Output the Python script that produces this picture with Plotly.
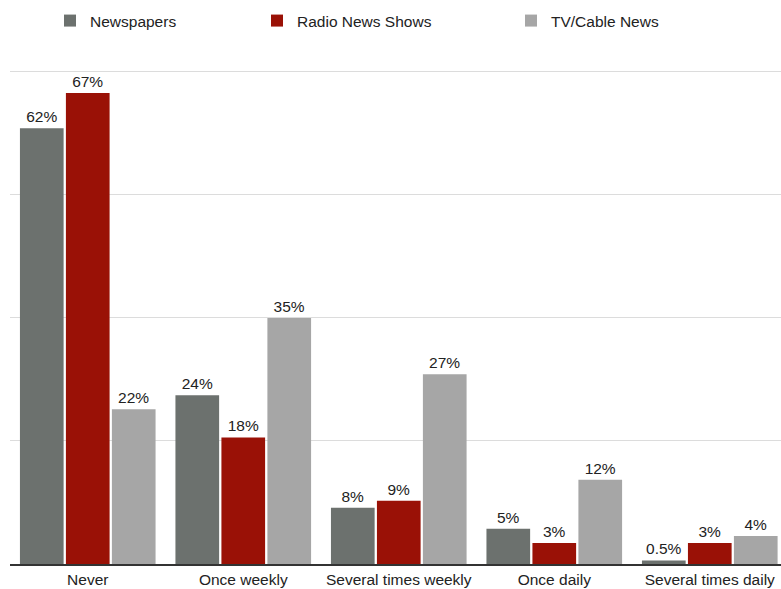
import plotly.graph_objects as go

categories = ["Never", "Once weekly", "Several times weekly", "Once daily", "Several times daily"]
newspapers = [62, 24, 8, 5, 0.5]
radio = [67, 18, 9, 3, 3]
tv = [22, 35, 27, 12, 4]
series_names = ["Newspapers", "Radio News Shows", "TV/Cable News"]
colors = ["#6c716e", "#9a1106", "#a6a6a6"]
grid_ticks = [0, 17.5, 35, 52.5, 70]

FONT = "Liberation Sans, Arial, Helvetica, sans-serif"
FS = 15.5
W, H = 781, 589
legend_x_px = [50, 257, 511]
legend_ids = ["legend", "legend2", "legend3"]

fig = go.Figure()
for name, vals, col, lid in zip(series_names, [newspapers, radio, tv], colors, legend_ids):
    fig.add_trace(go.Bar(
        x=categories, y=vals, name=name,
        marker=dict(color=col, line=dict(width=0)),
        text=[f"{v:g}%" for v in vals],
        textposition="outside",
        textfont=dict(size=FS, color="#222222", family=FONT),
        cliponaxis=False,
        legend=lid,
    ))

legend_common = dict(orientation="h", xref="container", yref="container",
                     xanchor="left", yanchor="middle", y=1 - 21 / H,
                     font=dict(size=FS, color="#222222", family=FONT),
                     bgcolor="rgba(0,0,0,0)", borderwidth=0)

fig.update_layout(
    width=W, height=H,
    margin=dict(l=10, r=0, t=70, b=25, pad=0),
    paper_bgcolor="white", plot_bgcolor="white",
    barmode="group", bargap=0.113, bargroupgap=0.05,
    font=dict(family=FONT, size=FS, color="#222222"),
    showlegend=True,
    legend=dict(x=legend_x_px[0] / W, **legend_common),
    legend2=dict(x=legend_x_px[1] / W, **legend_common),
    legend3=dict(x=legend_x_px[2] / W, **legend_common),
    xaxis=dict(range=[-0.5, 4.458], showgrid=False, showline=True, linecolor="#333333", linewidth=2,
               ticks="", tickfont=dict(size=FS, color="#222222", family=FONT), automargin=False),
    yaxis=dict(range=[0, 70.28], tickvals=grid_ticks, showgrid=True, gridcolor="#dcdcdc", gridwidth=1,
               showticklabels=False, zeroline=False, showline=False, automargin=False),
)
fig.write_html("out.html",
               config={"displayModeBar": False},
               post_script="document.body.style.margin='0';document.body.style.overflow='hidden';")
